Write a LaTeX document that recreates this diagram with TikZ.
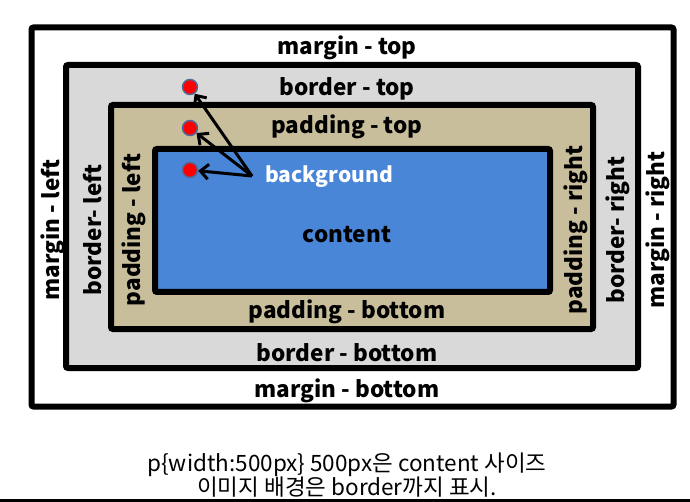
\documentclass[tikz,border=0pt]{standalone}
\usepackage{fontspec}
\setmainfont{Noto Sans CJK KR}
\usetikzlibrary{arrows.meta}
\definecolor{contentblue}{RGB}{74,134,216}
\definecolor{paddingtan}{RGB}{201,190,156}
\definecolor{bordergray}{RGB}{217,217,217}
\definecolor{dotedge}{RGB}{79,106,154}
\tikzset{
  boxframe/.style={draw=black, line width=6pt, rounded corners=2pt},
  lbl/.style={font=\bfseries\fontsize{22.5}{26}\selectfont, inner sep=1pt},
  vlbl/.style={lbl, rotate=90},
  spot/.style={circle, fill=red, draw=dotedge, line width=1.5pt, minimum size=15pt, inner sep=0pt},
  pointer/.style={line width=3pt, -{Straight Barb[length=8pt,width=15pt,line width=3pt]}}
}
\begin{document}
\begin{tikzpicture}[x=1pt, y=-1pt]
  \useasboundingbox (0,0) rectangle (690,502);
  %! --- box model ---
  % margin, border, padding, content boxes
  \draw[boxframe, fill=white] (31.5,27.5) rectangle (673.5,406.5);
  \draw[boxframe, fill=bordergray] (66,65) rectangle (638,368);
  \draw[boxframe, fill=paddingtan] (111,105) rectangle (593,329);
  \draw[boxframe, fill=contentblue] (155,149) rectangle (550,292);
  % horizontal labels
  \node[lbl] (mtop) at (347,48) {margin - top};
  \node[lbl] (btop) at (347,89) {border - top};
  \node[lbl] (ptop) at (347,127) {padding - top};
  \node[lbl] (cont) at (347,235) {content};
  \node[lbl] (pbot) at (347,312) {padding - bottom};
  \node[lbl] (bbot) at (347,353) {border - bottom};
  \node[lbl] (mbot) at (347,391) {margin - bottom};
  % vertical labels (left, right)
  \foreach \n/\x/\t in {mleft/53/margin - left, bleft/93/border- left, pleft/134/padding - left,
                        pright/576/padding - right, bright/618/border- right, mright/658/margin - right} {
    \node[vlbl] (\n) at (\x,230) {\t};
  }
  %! --- background ---
  \node[lbl, text=white, font=\bfseries\fontsize{21}{24}\selectfont] (bg) at (329,177) {background};
  \coordinate (bgtail) at (252,176);
  \foreach \i/\y in {1/87,2/128,3/170} {
    \node[spot] (dot\i) at (190,\y) {};
    \draw[pointer] (bgtail) -- (dot\i);
  }
  % caption
  \node[font=\fontsize{22.5}{24}\selectfont, align=center] (note) at (347,475)
    {p\{width:500px\} 500px은 content 사이즈\\이미지 배경은 border까지 표시.};
  \fill[black] (0,499) rectangle (690,502);
\end{tikzpicture}
\end{document}
